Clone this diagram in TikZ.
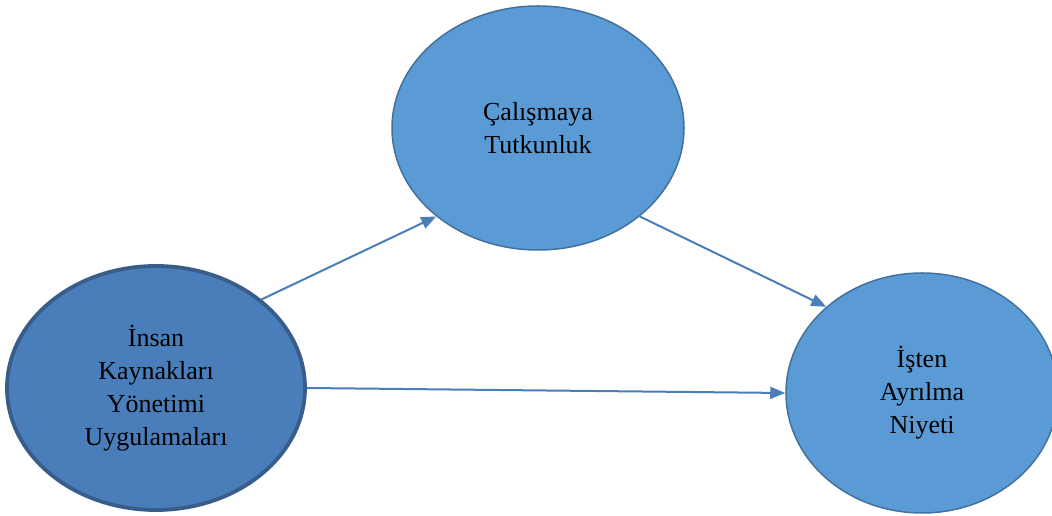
\documentclass[tikz,border=0pt]{standalone}
\usepackage{fontspec}
\setmainfont{Liberation Serif}
\usepackage{tikz}
\usetikzlibrary{shapes.geometric, arrows.meta, positioning}
\definecolor{ikyfill}{HTML}{4A7EBB}
\definecolor{ikyline}{HTML}{385D8A}
\definecolor{varfill}{HTML}{5B9BD5}
\definecolor{varline}{HTML}{41719C}
\definecolor{arrowblue}{HTML}{4A7EBB}

\begin{document}
\begin{tikzpicture}[
    x=1pt, y=1pt,
    construct/.style={ellipse, inner sep=0pt, fill=varfill, draw=varline, line width=1.5pt, align=center, font=\fontsize{26}{33}\selectfont, text=black},
    arrow/.style={-{Triangle[length=15pt, width=12pt]}, line width=2pt, color=arrowblue}
]
\useasboundingbox (0,0) rectangle (1052,516);

\node[construct, fill=ikyfill, draw=ikyline, line width=3.8pt, minimum width=298pt, minimum height=244pt] (ikyu) at (156,128) {İnsan\\Kaynakları\\Yönetimi\\Uygulamaları};
\node[construct, minimum width=292pt, minimum height=244pt] (tutku) at (538,388) {Çalışmaya\\Tutkunluk};
\node[construct, minimum width=272pt, minimum height=240pt] (niyet) at (922,123) {İşten\\Ayrılma\\Niyeti};

\draw[arrow] (ikyu.40) -- (tutku.221);
\draw[arrow] (tutku.319) -- (niyet.138);
\draw[arrow] (ikyu.east) -- (niyet.west);
\end{tikzpicture}
\end{document}
